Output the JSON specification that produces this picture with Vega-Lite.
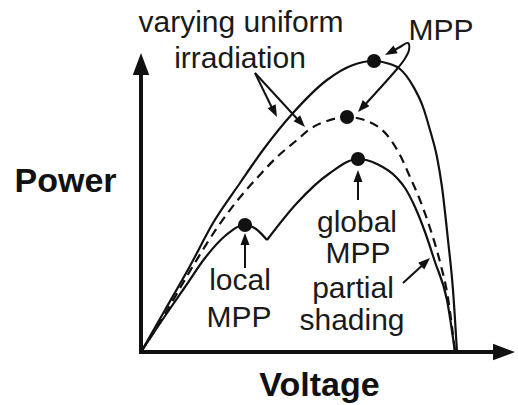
{
  "$schema": "https://vega.github.io/schema/vega-lite/v6.json",
  "width": 518,
  "height": 405,
  "padding": 0,
  "autosize": "none",
  "background": "white",
  "config": {"view": {"stroke": null}},
  "datasets": {
    "axes": [
      {"v": -2, "p": 0, "v2": 362, "p2": 0},
      {"v": 0, "p": -2, "v2": 0, "p2": 285}
    ],
    "axisHeads": [
      {"name": "power", "v": 0, "p": 299, "dir": 0},
      {"name": "voltage", "v": 374, "p": 0, "dir": 90}
    ],
    "solid": [
      {"seg": "uniform-high", "v": 0, "p": 0},
      {"seg": "uniform-high", "v": 24, "p": 42},
      {"seg": "uniform-high", "v": 49, "p": 86},
      {"seg": "uniform-high", "v": 72, "p": 129},
      {"seg": "uniform-high", "v": 99, "p": 169},
      {"seg": "uniform-high", "v": 122, "p": 202},
      {"seg": "uniform-high", "v": 152, "p": 239},
      {"seg": "uniform-high", "v": 186, "p": 272},
      {"seg": "uniform-high", "v": 212, "p": 287},
      {"seg": "uniform-high", "v": 232, "p": 291},
      {"seg": "uniform-high", "v": 249, "p": 288},
      {"seg": "uniform-high", "v": 259, "p": 283},
      {"seg": "uniform-high", "v": 272, "p": 266},
      {"seg": "uniform-high", "v": 282, "p": 245},
      {"seg": "uniform-high", "v": 289, "p": 222},
      {"seg": "uniform-high", "v": 296, "p": 195},
      {"seg": "uniform-high", "v": 301, "p": 165},
      {"seg": "uniform-high", "v": 307, "p": 112},
      {"seg": "uniform-high", "v": 312, "p": 62},
      {"seg": "uniform-high", "v": 316, "p": 0},
      {"seg": "shaded-a", "v": 0, "p": 0},
      {"seg": "shaded-a", "v": 24, "p": 36},
      {"seg": "shaded-a", "v": 44, "p": 65},
      {"seg": "shaded-a", "v": 64, "p": 94},
      {"seg": "shaded-a", "v": 84, "p": 116},
      {"seg": "shaded-a", "v": 104, "p": 127},
      {"seg": "shaded-a", "v": 115, "p": 123},
      {"seg": "shaded-a", "v": 126, "p": 112},
      {"seg": "shaded-b", "v": 126, "p": 112},
      {"seg": "shaded-b", "v": 156, "p": 149},
      {"seg": "shaded-b", "v": 189, "p": 179},
      {"seg": "shaded-b", "v": 217, "p": 193},
      {"seg": "shaded-b", "v": 236, "p": 188},
      {"seg": "shaded-b", "v": 256, "p": 174},
      {"seg": "shaded-b", "v": 264, "p": 164},
      {"seg": "shaded-b", "v": 274, "p": 145},
      {"seg": "shaded-b", "v": 284, "p": 120},
      {"seg": "shaded-b", "v": 294, "p": 90},
      {"seg": "shaded-b", "v": 306, "p": 52},
      {"seg": "shaded-b", "v": 314, "p": 0}
    ],
    "dashed": [
      {"v": 0, "p": 0},
      {"v": 24, "p": 38},
      {"v": 49, "p": 81},
      {"v": 76, "p": 124},
      {"v": 96, "p": 151},
      {"v": 116, "p": 174},
      {"v": 136, "p": 195},
      {"v": 156, "p": 212},
      {"v": 169, "p": 223},
      {"v": 186, "p": 231},
      {"v": 206, "p": 235},
      {"v": 226, "p": 231},
      {"v": 246, "p": 217},
      {"v": 259, "p": 197},
      {"v": 269, "p": 175},
      {"v": 279, "p": 152},
      {"v": 289, "p": 124},
      {"v": 299, "p": 90},
      {"v": 307, "p": 54},
      {"v": 314, "p": 0}
    ],
    "shafts": [
      {"arrow": "irr1", "i": 0, "v": 114, "p": 279},
      {"arrow": "irr1", "i": 1, "v": 133, "p": 240},
      {"arrow": "irr2", "i": 0, "v": 114, "p": 279},
      {"arrow": "irr2", "i": 1, "v": 160, "p": 229},
      {"arrow": "mpp", "i": 0, "v": 248, "p": 299},
      {"arrow": "mpp", "i": 1, "v": 259, "p": 305},
      {"arrow": "mpp", "i": 2, "v": 267, "p": 309},
      {"arrow": "mpp", "i": 3, "v": 268, "p": 302},
      {"arrow": "mpp", "i": 4, "v": 263, "p": 292},
      {"arrow": "mpp", "i": 5, "v": 256, "p": 283},
      {"arrow": "mpp", "i": 6, "v": 221, "p": 244},
      {"arrow": "local", "i": 0, "v": 104, "p": 84},
      {"arrow": "local", "i": 1, "v": 104, "p": 113},
      {"arrow": "global", "i": 0, "v": 217, "p": 152},
      {"arrow": "global", "i": 1, "v": 217, "p": 176},
      {"arrow": "partial", "i": 0, "v": 262, "p": 69},
      {"arrow": "partial", "i": 1, "v": 285, "p": 90}
    ],
    "heads": [
      {"arrow": "irr1", "v": 136, "p": 235, "dir": 153.4},
      {"arrow": "irr2", "v": 164, "p": 225, "dir": 137.2},
      {"arrow": "mppA", "v": 244, "p": 297, "dir": 241.9},
      {"arrow": "mppB", "v": 217, "p": 240, "dir": 222.2},
      {"arrow": "local", "v": 104, "p": 119, "dir": 0},
      {"arrow": "global", "v": 217, "p": 182, "dir": 0},
      {"arrow": "partial", "v": 289, "p": 94, "dir": 47.2}
    ],
    "mpp": [
      {"point": "MPP high", "v": 233, "p": 291},
      {"point": "MPP low", "v": 206, "p": 235},
      {"point": "local MPP", "v": 104, "p": 127},
      {"point": "global MPP", "v": 217, "p": 193}
    ],
    "labels": [
      {"label": "varying uniform", "v": 100, "p": 320},
      {"label": "irradiation", "v": 99, "p": 284},
      {"label": "MPP", "v": 300, "p": 312},
      {"label": "global", "v": 216, "p": 120},
      {"label": "MPP", "v": 217, "p": 89},
      {"label": "partial", "v": 212, "p": 54},
      {"label": "shading", "v": 211, "p": 22},
      {"label": "local", "v": 99, "p": 62},
      {"label": "MPP", "v": 98, "p": 25}
    ]
  },
  "encoding": {
    "x": {
      "field": "v",
      "type": "quantitative",
      "scale": {"domain": [-141, 377], "nice": false, "zero": false},
      "axis": {
        "title": "Voltage",
        "domain": false,
        "ticks": false,
        "labels": false,
        "grid": false,
        "titleFont": "Liberation Sans",
        "titleFontSize": 34,
        "titleFontWeight": "bold",
        "titleColor": "#111111",
        "titleAlign": "center",
        "titleBaseline": "alphabetic",
        "titleX": 319,
        "titleY": -10
      }
    },
    "y": {
      "field": "p",
      "type": "quantitative",
      "scale": {"domain": [-53, 352], "nice": false, "zero": false},
      "axis": {
        "title": "Power",
        "domain": false,
        "ticks": false,
        "labels": false,
        "grid": false,
        "titleFont": "Liberation Sans",
        "titleFontSize": 34,
        "titleFontWeight": "bold",
        "titleColor": "#111111",
        "titleAngle": 0,
        "titleAlign": "center",
        "titleBaseline": "alphabetic",
        "titleX": 65,
        "titleY": 191
      }
    }
  },
  "layer": [
    {
      "data": {"name": "axes"},
      "mark": {"type": "rule", "strokeWidth": 4, "color": "#111111", "strokeCap": "butt"},
      "encoding": {"x2": {"field": "v2"}, "y2": {"field": "p2"}}
    },
    {
      "data": {"name": "axisHeads"},
      "mark": {"type": "point", "shape": "M0,0L0.75,2L-0.75,2Z", "filled": true, "opacity": 1, "color": "#111111", "size": 484},
      "encoding": {"angle": {"field": "dir", "type": "quantitative", "scale": null}}
    },
    {
      "data": {"name": "solid"},
      "mark": {"type": "line", "interpolate": "monotone", "strokeWidth": 2.2, "color": "#111111"},
      "encoding": {"detail": {"field": "seg"}}
    },
    {
      "data": {"name": "dashed"},
      "mark": {"type": "line", "interpolate": "monotone", "strokeWidth": 2.2, "color": "#111111", "strokeDash": [9, 6]},
      "encoding": {}
    },
    {
      "data": {"name": "shafts"},
      "mark": {"type": "line", "interpolate": "catmull-rom", "strokeWidth": 2, "color": "#111111"},
      "encoding": {"detail": {"field": "arrow"}, "order": {"field": "i", "type": "quantitative"}}
    },
    {
      "data": {"name": "heads"},
      "mark": {"type": "point", "shape": "M0,0L0.75,2L-0.75,2Z", "filled": true, "opacity": 1, "color": "#111111", "size": 144},
      "encoding": {"angle": {"field": "dir", "type": "quantitative", "scale": null}}
    },
    {
      "data": {"name": "mpp"},
      "mark": {"type": "point", "shape": "circle", "filled": true, "opacity": 1, "color": "#111111", "size": 200}
    },
    {
      "data": {"name": "labels"},
      "mark": {"type": "text", "font": "Liberation Sans", "fontSize": 30, "align": "center", "baseline": "alphabetic", "color": "#1a1a1a"},
      "encoding": {"text": {"field": "label"}}
    }
  ]
}
